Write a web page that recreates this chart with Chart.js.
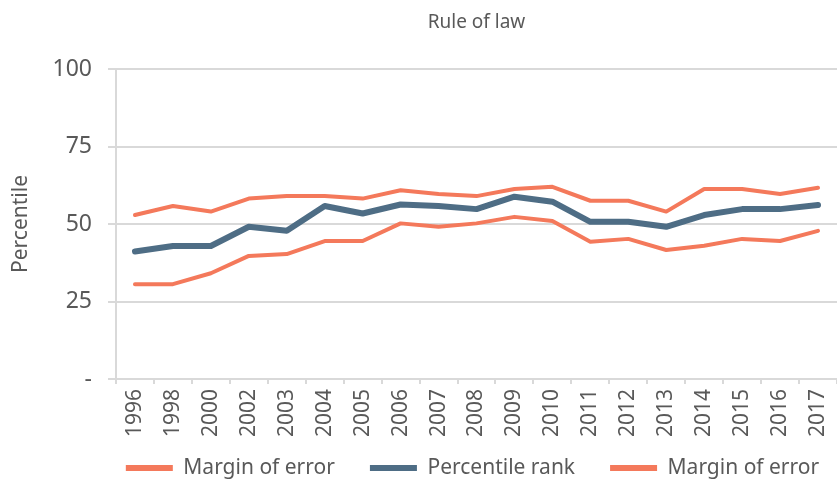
<!DOCTYPE html>
<html>
<head>
<meta charset="utf-8">
<script src="https://cdn.jsdelivr.net/npm/chart.js@4/dist/chart.umd.min.js"></script>
<style>
  html, body { margin: 0; padding: 0; background: #fff; }
  #wrap { width: 837px; height: 482px; }
</style>
</head>
<body>
<div id="wrap"><canvas id="chart" width="837" height="482"></canvas></div>
<script>
// Rule of law - percentile rank with margins of error
const years = ["1996", "1998", "2000", "2002", "2003", "2004", "2005", "2006", "2007", "2008",
               "2009", "2010", "2011", "2012", "2013", "2014", "2015", "2016", "2017"];
const upperMargin = [52.9, 55.8, 54.0, 58.2, 59.0, 59.0, 58.2, 60.9, 59.7, 59.0,
                     61.3, 62.0, 57.5, 57.5, 54.0, 61.3, 61.3, 59.7, 61.7];
const percentileRank = [41.1, 42.9, 42.9, 49.1, 47.8, 55.8, 53.4, 56.3, 55.8, 54.8,
                        58.8, 57.2, 50.7, 50.7, 49.1, 52.9, 54.8, 54.8, 56.1];
const lowerMargin = [30.6, 30.6, 34.1, 39.7, 40.3, 44.5, 44.5, 50.2, 49.1, 50.2,
                     52.3, 51.0, 44.3, 45.2, 41.6, 43.0, 45.2, 44.5, 47.8];
const yTicks = [0, 25, 50, 75, 100];

const orange = '#f4795b';
const blue = '#4e6d85';
const grey = '#d9d9d9';
const textGrey = '#595959';
const fontFamily = '"Noto Sans", "Open Sans", sans-serif';

// legend row is wider than chart.js likes, so center it under the plot by hand
const legendPlacer = {
    id: 'legendPlacer',
    afterLayout(chart) {
        const lg = chart.legend;
        const area = chart.chartArea;
        const pad = lg.options.labels.padding;
        const rowW = lg.lineWidths[0] - pad;
        const start = (area.left + area.right) / 2 - 4 - rowW / 2;
        lg.left = start - pad;
        lg.right = lg.left + rowW + 2 * pad + 10;
        lg.width = lg.right - lg.left;
        // item centre sits at top + padding + fontSize / 2
        lg.top = 468 - pad - lg.options.labels.font.size / 2;
        lg.bottom = chart.height;
        lg.height = lg.bottom - lg.top;
    }
};

new Chart(document.getElementById('chart'), {
    type: 'line',
    data: {
        labels: years,
        datasets: [
            { label: 'Margin of error', data: upperMargin, borderColor: orange, borderWidth: 4 },
            { label: 'Percentile rank', data: percentileRank, borderColor: blue, borderWidth: 6 },
            { label: 'Margin of error', data: lowerMargin, borderColor: orange, borderWidth: 4 }
        ]
    },
    options: {
        responsive: false,
        animation: false,
        devicePixelRatio: 1,
        layout: { padding: 0 },
        elements: {
            point: { radius: 0, hoverRadius: 0 },
            line: { tension: 0, borderCapStyle: 'round', borderJoinStyle: 'round', fill: false }
        },
        scales: {
            x: {
                offset: true,
                grid: { offset: true, drawOnChartArea: false, drawTicks: true, tickLength: 5, color: grey, lineWidth: 2 },
                border: { color: grey, width: 2 },
                ticks: {
                    minRotation: 90, maxRotation: 90, autoSkip: false, padding: 5,
                    color: textGrey, font: { family: fontFamily, size: 21 }
                },
                afterFit: scale => {
                    scale.height = 60;
                    scale.paddingLeft = 0;
                    scale.paddingRight = 0;
                }
            },
            y: {
                min: 0, max: 100,
                afterBuildTicks: scale => { scale.ticks = yTicks.map(v => ({ value: v })); },
                grid: { color: grey, lineWidth: 2, tickLength: 8 },
                border: { color: grey, width: 2 },
                ticks: {
                    padding: 16, color: textGrey, font: { family: fontFamily, size: 23 },
                    callback: v => (v === 0 ? '-' : v)
                },
                title: {
                    display: true, text: 'Percentile', color: textGrey,
                    font: { family: fontFamily, size: 21 }, padding: { top: 8, bottom: 0 }
                },
                afterFit: scale => { scale.width = 116; }
            }
        },
        plugins: {
            title: {
                display: true, text: 'Rule of law', fullSize: false, color: textGrey,
                font: { family: fontFamily, size: 19, weight: 'normal' },
                padding: { top: 11.6, bottom: 34.6 }
            },
            legend: {
                position: 'bottom', align: 'start', maxHeight: 43,
                labels: {
                    boxWidth: 47, boxHeight: 6, padding: 35, useBorderRadius: true, borderRadius: 3,
                    color: textGrey, font: { family: fontFamily, size: 21 },
                    generateLabels: chart => chart.data.datasets.map((ds, i) => ({
                        text: ds.label, fillStyle: ds.borderColor, strokeStyle: ds.borderColor,
                        lineWidth: 0, hidden: false, datasetIndex: i, fontColor: textGrey
                    }))
                }
            },
            tooltip: { enabled: false }
        }
    },
    plugins: [legendPlacer]
});
</script>
</body>
</html>
